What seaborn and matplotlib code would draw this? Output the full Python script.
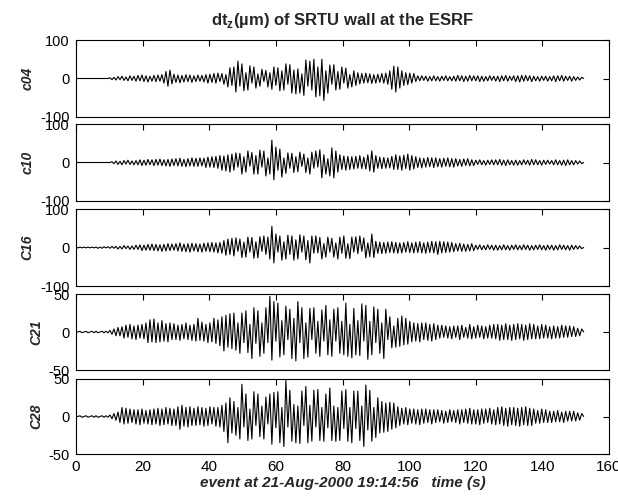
import numpy as np
import pandas as pd
import matplotlib
matplotlib.use("Agg")
import matplotlib.pyplot as plt
import seaborn as sns

# sampling of the hand-read traces (s)
dt = 0.6
channels = ["c04", "c10", "C16", "C21", "C28"]
ylims = [100, 100, 100, 50, 50]

# displacement peaks (um), one row = 6 s
c04 = [
    0, 0, 0, 0, 0, 0, 0, 0, 0, 0,
    0, 0, 0, 0, 0, 0, 0, 2, -3, 3,
    -4, 5, -3, 6, -5, 4, -6, 7, -5, 6,
    -7, 8, -6, 9, -8, 7, -9, 6, -7, 8,
    -8, 9, -7, 10, -12, 18, -20, 22, -14, 11,
    -10, 9, -11, 8, -9, 10, -8, 9, -10, 7,
    -8, 9, -7, 8, -9, 10, -12, 11, -10, 13,
    -12, 14, -8, 13, -15, 10, -22, 28, -18, 30,
    -35, 45, -20, 38, -32, 15, -30, 33, -12, 30,
    -25, 12, -20, 24, -8, 21, -22, 15, -28, 30,
    -18, 28, -32, 20, -30, 38, -15, 36, -38, 22,
    -40, 25, -38, 12, -44, 48, -20, 45, -30, 50,
    -48, 30, -45, 50, -57, 20, -38, 35, -15, 36,
    -30, 18, -28, 30, -12, 27, -25, 10, -22, 20,
    -18, 15, -14, 13, -12, 14, -11, 12, -13, 10,
    -12, 11, -10, 13, -12, 14, -15, 20, -28, 32,
    -35, 30, -25, 20, -18, 15, -16, 14, -12, 13,
    -8, 7, -6, 7, -5, 6, -7, 5, -6, 7,
    -6, 5, -7, 6, -5, 7, -6, 5, -6, 6,
    -7, 8, -6, 7, -8, 6, -7, 8, -6, 7,
    -6, 7, -8, 6, -7, 5, -6, 7, -5, 6,
    -7, 6, -8, 7, -6, 8, -7, 6, -5, 7,
    -8, 7, -9, 8, -7, 8, -6, 7, -8, 6,
    -6, 5, -7, 6, -5, 6, -7, 5, -6, 7,
    -8, 7, -6, 8, -7, 6, -5, 6, -7, 5,
    -5, 4, -4, 3, 0,
]
c10 = [
    0, 0, 0, 0, 0, 0, 0, 0, 0, 0,
    0, 0, 0, 0, 0, 0, 0, 0, 2, -3,
    4, -5, 3, -6, 5, -4, 6, -5, 4, -6,
    5, -6, 7, -8, 6, -7, 8, -6, 7, -8,
    8, -7, 9, -8, 7, -9, 8, -10, 9, -8,
    10, -9, 11, -10, 8, -11, 10, -9, 12, -10,
    11, -10, 12, -9, 11, -13, 14, -12, 15, -13,
    16, -15, 18, -20, 17, -22, 20, -25, 22, -20,
    25, -12, 24, -30, 15, -25, 30, -10, 26, -30,
    18, -30, 32, -12, 30, -35, 12, -30, 58, -45,
    40, -20, 35, -38, 12, -28, 25, -15, 24, -26,
    15, -24, 27, -10, 22, -26, 12, -30, 27, -15,
    30, -12, 33, -40, 20, -30, 10, -35, 38, -40,
    30, -25, 20, -18, 17, -20, 16, -18, 15, -17,
    16, -15, 18, -16, 14, -17, 20, -22, 30, -25,
    18, -15, 14, -16, 13, -15, 12, -14, 16, -18,
    20, -18, 17, -20, 19, -16, 22, -20, 18, -17,
    15, -13, 12, -14, 11, -12, 13, -11, 12, -13,
    12, -11, 10, -12, 11, -10, 12, -11, 10, -12,
    10, -9, 8, -10, 9, -8, 10, -9, 7, -8,
    6, -5, 7, -6, 5, -7, 6, -5, 7, -6,
    7, -6, 8, -7, 6, -8, 7, -6, 5, -7,
    6, -7, 5, -6, 7, -5, 6, -7, 8, -6,
    7, -6, 5, -7, 6, -5, 6, -4, 5, -6,
    7, -6, 5, -7, 6, -8, 7, -6, 5, -6,
    5, -4, 4, -3, 0,
]
c16 = [
    1, -1, 1, -1, 1, -1, 1, -1, 1, -1,
    1, -2, 1, -2, 2, -1, 2, -2, 3, -2,
    3, -4, 3, -4, 5, -3, 4, -5, 4, -5,
    6, -5, 7, -8, 6, -7, 8, -7, 9, -8,
    8, -9, 7, -10, 8, -9, 10, -8, 9, -7,
    10, -9, 12, -10, 9, -11, 10, -12, 11, -9,
    10, -11, 9, -12, 11, -10, 12, -11, 13, -12,
    12, -14, 13, -15, 18, -20, 22, -18, 24, -22,
    25, -10, 22, -26, 14, -25, 27, -12, 26, -28,
    15, -27, 28, -10, 30, -18, 27, -30, 55, -40,
    35, -12, 30, -33, 15, -30, 32, -18, 30, -33,
    20, -30, 33, -12, 30, -32, 18, -40, 30, -15,
    30, -14, 26, -30, 10, -25, 27, -12, 24, -25,
    12, -30, 27, -15, 30, -28, 10, -29, 27, -12,
    28, -16, 30, -10, 25, -27, 12, -24, 35, -26,
    16, -15, 14, -16, 13, -15, 14, -13, 15, -14,
    13, -15, 12, -14, 13, -12, 15, -13, 12, -14,
    14, -13, 15, -14, 12, -15, 14, -13, 16, -14,
    15, -18, 16, -14, 15, -13, 14, -12, 13, -11,
    10, -9, 11, -10, 9, -10, 8, -9, 10, -8,
    6, -5, 7, -6, 5, -6, 7, -5, 6, -7,
    6, -7, 5, -6, 7, -6, 5, -7, 6, -5,
    7, -6, 5, -6, 7, -5, 6, -7, 5, -6,
    6, -5, 7, -6, 5, -7, 6, -5, 6, -7,
    5, -6, 7, -5, 6, -6, 5, -7, 6, -5,
    5, -4, 4, -3, 0,
]
c21 = [
    0, 0, 1, -1, 0, 1, -1, 0, 1, -1,
    1, -1, 0, 1, -1, 1, -1, 2, -3, 4,
    -5, 6, -5, 7, -8, 9, -7, 10, -9, 8,
    -10, 9, -8, 10, -9, 12, -14, 16, -13, 17,
    -14, 12, -13, 15, -12, 11, -13, 12, -10, 11,
    -10, 9, -11, 10, -9, 12, -10, 9, -11, 10,
    -12, 18, -11, 13, -12, 10, -14, 12, -13, 18,
    -15, 16, -18, 20, -25, 22, -20, 24, -22, 25,
    -24, 12, -28, 25, -14, 28, -27, 10, -35, 32,
    -15, 28, -32, 12, -28, 32, -14, 47, -37, 40,
    -12, 38, -33, 15, -30, 34, -10, 30, -35, 18,
    -38, 40, -14, 32, -35, 12, -33, 31, -10, 32,
    -28, 14, -32, 29, -12, 35, -30, 16, -32, 30,
    -12, 32, -28, 14, -30, 38, -32, 10, -34, 31,
    -30, 15, -31, 37, -12, 35, -36, 14, -30, 33,
    -14, 30, -28, 12, -35, 30, -10, 20, -21, 8,
    -20, 18, -19, 21, -17, 18, -16, 14, -13, 12,
    -12, 11, -13, 12, -10, 12, -11, 10, -12, 11,
    -10, 9, -8, 9, -7, 8, -8, 7, -9, 8,
    -7, 8, -10, 9, -7, 6, -8, 10, -9, 7,
    -8, 9, -7, 8, -9, 7, -8, 9, -8, 10,
    -9, 10, -11, 9, -10, 11, -10, 9, -11, 10,
    -10, 11, -9, 10, -11, 9, -10, 11, -9, 10,
    -9, 8, -9, 10, -8, 9, -8, 7, -9, 8,
    -8, 7, -8, 9, -7, 8, -7, 8, -6, 7,
    -6, 5, -5, 4, 0,
]
c28 = [
    0, 0, 1, -1, 0, 1, -1, 0, 1, -1,
    1, -1, 0, 1, -1, 1, -1, 2, -3, 4,
    -5, 6, -8, 12, -10, 11, -9, 10, -8, 9,
    -10, 9, -11, 10, -9, 8, -10, 9, -11, 10,
    -10, 11, -12, 10, -11, 12, -10, 11, -12, 10,
    -12, 13, -17, 15, -13, 12, -14, 13, -12, 11,
    -12, 13, -11, 12, -13, 11, -12, 13, -10, 12,
    -13, 12, -14, 15, -20, 18, -35, 25, -22, 20,
    -25, 12, -30, 43, -14, 30, -32, 10, -30, 33,
    -12, 30, -27, 14, -30, 26, -10, 30, -37, 32,
    -15, 33, -35, 12, -40, 48, -14, 35, -33, 16,
    -35, 14, -36, 34, -12, 40, -35, 15, -33, 35,
    -14, 36, -32, 12, -33, 30, -15, 38, -32, 14,
    -33, 12, -32, 34, -16, 36, -33, 12, -35, 34,
    -16, 34, -32, 14, -40, 42, -18, 35, -33, 12,
    -28, 25, -22, 20, -21, 18, -20, 19, -17, 18,
    -15, 13, -12, 11, -10, 12, -11, 10, -9, 10,
    -10, 9, -11, 10, -9, 10, -8, 9, -10, 9,
    -8, 9, -7, 8, -9, 7, -8, 9, -7, 8,
    -8, 9, -10, 9, -8, 10, -9, 11, -10, 9,
    -10, 9, -11, 10, -9, 10, -8, 11, -10, 9,
    -11, 12, -10, 13, -12, 11, -13, 12, -11, 12,
    -12, 11, -13, 12, -11, 13, -12, 11, -12, 10,
    -9, 8, -9, 10, -8, 9, -8, 7, -8, 7,
    -7, 8, -7, 6, -8, 7, -6, 7, -6, 7,
    -6, 5, -5, 4, 0,
]
traces = [c04, c10, c16, c21, c28]

sns.set_theme(style="white")
plt.rcParams["font.family"] = ["Liberation Sans", "DejaVu Sans"]
plt.rcParams["axes.unicode_minus"] = False
plt.rcParams["mathtext.fontset"] = "custom"
plt.rcParams["mathtext.rm"] = "Liberation Sans"
plt.rcParams["mathtext.bf"] = "Liberation Sans:bold"

fig = plt.figure(figsize=(6.18, 5.03), dpi=100)

# panel edges in pixels (top, bottom)
panels = [(40, 117), (124, 201), (209, 286), (294, 370), (379, 454)]
W, H = 618, 503
left, right = 76, 609

for i, (name, vals, lim) in enumerate(zip(channels, traces, ylims)):
    top, bot = panels[i]
    ax = fig.add_axes([left / W, 1 - bot / H, (right - left) / W, (bot - top) / H])
    df = pd.DataFrame({"t": np.arange(len(vals)) * dt, "v": vals})
    sns.lineplot(data=df, x="t", y="v", ax=ax, color="black", linewidth=0.8)
    ax.set_xlim(0, 160)
    ax.set_ylim(-lim, lim)
    ax.set_xticks(range(0, 161, 20))
    ax.set_yticks([-lim, 0, lim])
    ax.tick_params(direction="in", top=True, right=True, length=4, width=0.8,
                   colors="black")
    ax.tick_params(axis="y", labelsize=10.5, pad=4.5)
    ax.tick_params(axis="x", labelsize=11, pad=4)
    for s in ax.spines.values():
        s.set_color("black")
        s.set_linewidth(0.8)
    ax.set_ylabel(name, fontsize=10, fontweight="bold", style="italic", labelpad=4)
    if i < 4:
        ax.tick_params(labelbottom=False)
        ax.set_xlabel("")
    else:
        ax.set_xlabel("event at 21-Aug-2000 19:14:56   time (s)", fontsize=11,
                      fontweight="bold", style="italic", labelpad=2)
    if i == 0:
        ax.set_title(r"dt$_{\mathbf{z}}$(µm) of SRTU wall at the ESRF", fontsize=12,
                     fontweight="bold", pad=11)

fig.savefig("out.png", dpi=100)
